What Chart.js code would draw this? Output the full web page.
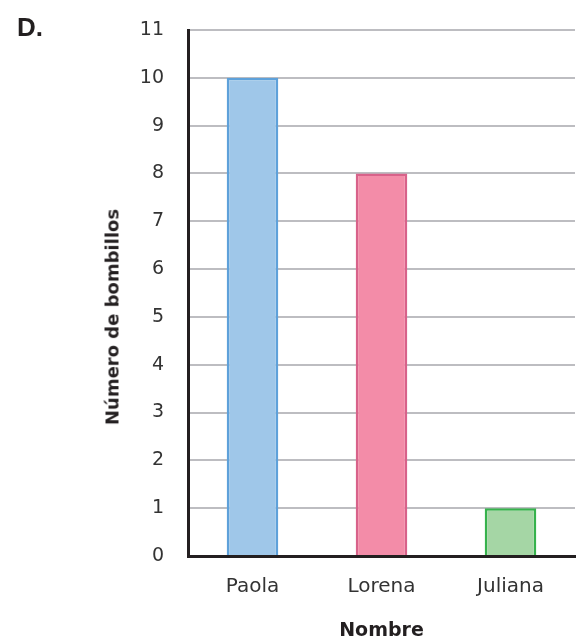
<!DOCTYPE html>
<html>
<head>
<meta charset="utf-8">
<script src="https://cdn.jsdelivr.net/npm/chart.js@4/dist/chart.umd.min.js"></script>
<style>
  html, body { margin: 0; padding: 0; background: #fff; }
  #wrap { position: relative; width: 577px; height: 642px; }
  #label { position: absolute; left: 17px; top: 12px; font: bold 26px "Liberation Sans", Arial, sans-serif; color: #231f20; }
  #ytitle {
    position: absolute; left: 112px; top: 317px;
    transform: translate(-50%, -50%) rotate(-90deg);
    white-space: nowrap; font: bold 18px "DejaVu Sans", sans-serif; color: #231f20;
  }
  canvas { position: absolute; left: 0; top: 0; }
</style>
</head>
<body>
<div id="wrap">
  <canvas id="c" width="577" height="642"></canvas>
  <div id="label">D.</div>
  <div id="ytitle">Número de bombillos</div>
</div>
<script>
// Bulbs counted per person
const names = ['Paola', 'Lorena', 'Juliana'];
const bulbs = [10, 8, 1];
const fillColors = ['#9fc7e9', '#f38ca8', '#a5d6a5'];
const edgeColors = ['#5ea1da', '#d8628a', '#36b24c'];
const yTicks = [0, 1, 2, 3, 4, 5, 6, 7, 8, 9, 10, 11];

new Chart(document.getElementById('c'), {
  type: 'bar',
  data: {
    labels: names,
    datasets: [{
      data: bulbs,
      backgroundColor: fillColors,
      borderColor: edgeColors,
      borderWidth: 2.5,
      barPercentage: 0.4,
      categoryPercentage: 1.0
    }]
  },
  options: {
    responsive: false,
    animation: false,
    layout: { padding: { left: 99, right: 2, top: 30, bottom: 0 } },
    plugins: { legend: { display: false }, tooltip: { enabled: false } },
    scales: {
      x: {
        grid: { display: false, drawTicks: false },
        border: { display: true, color: '#231f20', width: 3 },
        ticks: { color: '#333', padding: 19, font: { family: 'DejaVu Sans', size: 20 } },
        title: {
          display: true, text: 'Nombre', color: '#231f20',
          font: { family: 'DejaVu Sans', size: 19, weight: 'bold' },
          padding: { top: 0, bottom: 0 }
        },
        afterFit(scale) { scale.height = 86; }
      },
      y: {
        min: 0, max: 11,
        afterBuildTicks(scale) { scale.ticks = yTicks.map(v => ({ value: v })); },
        grid: { color: '#bdbdc1', lineWidth: 2, drawTicks: false },
        border: { display: true, color: '#231f20', width: 3 },
        ticks: { color: '#333', padding: 24, font: { family: 'DejaVu Sans', size: 19 } },
        afterFit(scale) {
          scale.width = 89;
          scale.paddingTop = 0;
          scale.paddingBottom = 0;
        }
      }
    }
  }
});
</script>
</body>
</html>
